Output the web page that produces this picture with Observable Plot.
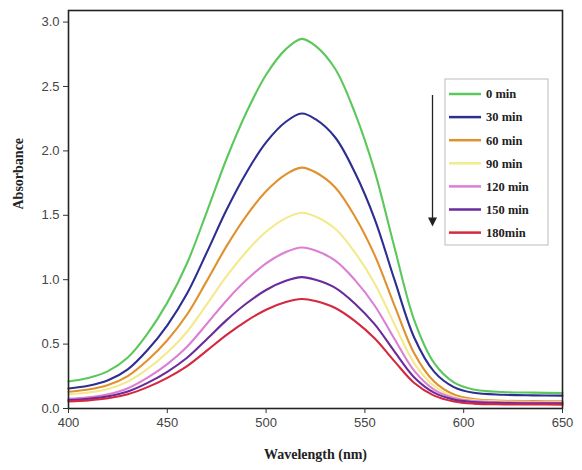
<!DOCTYPE html>
<html>
<head>
<meta charset="utf-8">
<script src="https://cdn.jsdelivr.net/npm/d3@7"></script>
<script src="https://cdn.jsdelivr.net/npm/@observablehq/plot@0.6"></script>
<style>
  html, body { margin: 0; padding: 0; background: #fff; }
  #chart { width: 582px; height: 470px; }
</style>
</head>
<body>
<div id="chart"></div>
<script>
// Wavelength grid (nm)
const wavelengths = [400, 410, 420, 430, 440, 450, 460, 470, 480, 490, 500, 510, 518,
  525, 535, 545, 555, 565, 575, 585, 595, 605, 620, 635, 650];

// Absorbance spectra by irradiation time
const min0   = [0.21, 0.237, 0.29, 0.396, 0.582, 0.822, 1.128, 1.527, 1.939, 2.298, 2.591, 2.79, 2.87,
  2.815, 2.636, 2.293, 1.839, 1.248, 0.684, 0.354, 0.203, 0.148, 0.128, 0.123, 0.12];
const min30  = [0.155, 0.176, 0.219, 0.304, 0.454, 0.646, 0.892, 1.212, 1.543, 1.831, 2.066, 2.226, 2.29,
  2.246, 2.104, 1.83, 1.469, 0.998, 0.549, 0.286, 0.166, 0.122, 0.107, 0.102, 0.10];
const min60  = [0.13, 0.147, 0.182, 0.252, 0.374, 0.53, 0.73, 0.991, 1.261, 1.496, 1.687, 1.818, 1.87,
  1.834, 1.716, 1.489, 1.189, 0.799, 0.427, 0.209, 0.109, 0.073, 0.06, 0.057, 0.055];
const min90  = [0.11, 0.124, 0.152, 0.209, 0.307, 0.434, 0.596, 0.808, 1.027, 1.217, 1.372, 1.478, 1.52,
  1.491, 1.395, 1.211, 0.969, 0.653, 0.351, 0.175, 0.094, 0.065, 0.054, 0.051, 0.05];
const min120 = [0.075, 0.087, 0.11, 0.157, 0.24, 0.345, 0.48, 0.657, 0.839, 0.997, 1.127, 1.215, 1.25,
  1.226, 1.148, 0.997, 0.798, 0.539, 0.292, 0.147, 0.081, 0.057, 0.049, 0.046, 0.045];
const min150 = [0.065, 0.075, 0.094, 0.132, 0.199, 0.285, 0.394, 0.538, 0.686, 0.815, 0.92, 0.991, 1.02,
  1.0, 0.937, 0.814, 0.653, 0.442, 0.241, 0.123, 0.069, 0.05, 0.043, 0.041, 0.04];
const min180 = [0.055, 0.063, 0.079, 0.111, 0.166, 0.238, 0.329, 0.449, 0.572, 0.679, 0.767, 0.826, 0.85,
  0.834, 0.78, 0.678, 0.543, 0.366, 0.198, 0.10, 0.055, 0.038, 0.032, 0.031, 0.03];

const seriesNames = ["0 min", "30 min", "60 min", "90 min", "120 min", "150 min", "180min"];
const seriesValues = [min0, min30, min60, min90, min120, min150, min180];
const seriesColors = ["#5cc85c", "#2e2e92", "#e0912e", "#f4e98c", "#dc7fd4", "#6a2c9c", "#d4283e"];

const xTicks = [400, 450, 500, 550, 600, 650];
const yTicks = [0, 0.5, 1.0, 1.5, 2.0, 2.5, 3.0];

// long-format table for Plot
const rows = seriesNames.flatMap((name, i) =>
  wavelengths.map((w, j) => ({series: name, wavelength: w, absorbance: seriesValues[i][j]})));

const serif = "'Liberation Serif', 'Times New Roman', serif";

const chart = Plot.plot({
  width: 582,
  height: 470,
  marginLeft: 68,
  marginRight: 20,
  marginTop: 10,
  marginBottom: 62,
  style: {fontFamily: "'Liberation Sans', Arial, sans-serif", fontSize: "13px", color: "#444", background: "#fff"},
  x: {domain: [400, 650]},
  y: {domain: [0, 3.09]},
  color: {domain: seriesNames, range: seriesColors},
  marks: [
    Plot.line(rows, {x: "wavelength", y: "absorbance", z: "series", stroke: "series",
      strokeWidth: 2.1, curve: "catmull-rom"}),
    Plot.frame({stroke: "#222", strokeWidth: 1.6}),
    Plot.axisX({ticks: xTicks, tickSize: 5, tickPadding: 4, label: null, stroke: "#333"}),
    Plot.axisY({ticks: yTicks, tickSize: 5, tickPadding: 4, tickFormat: d3.format(".1f"), label: null, stroke: "#333"}),
    Plot.text(["Wavelength (nm)"], {frameAnchor: "bottom", dy: 50, fontFamily: serif,
      fontWeight: "bold", fontSize: 14, fill: "#222"}),
    Plot.text(["Absorbance"], {frameAnchor: "left", dx: -50, rotate: -90, fontFamily: serif,
      fontWeight: "bold", fontSize: 14, fill: "#222"})
  ]
});
document.getElementById("chart").appendChild(chart);

// legend box with line samples, plus the downward time arrow
const svg = d3.select(chart);
const lg = svg.append("g").attr("class", "legend").attr("text-anchor", "start");
lg.append("rect").attr("x", 445).attr("y", 79).attr("width", 103).attr("height", 166)
  .attr("fill", "#fff").attr("stroke", "#bbb").attr("stroke-width", 1);
seriesNames.forEach((name, i) => {
  const y = 94 + i * 23.1;
  lg.append("line").attr("x1", 449).attr("x2", 481).attr("y1", y).attr("y2", y)
    .attr("stroke", seriesColors[i]).attr("stroke-width", 2.5);
  lg.append("text").attr("x", 486).attr("y", y).attr("dy", "0.35em")
    .attr("font-family", serif).attr("font-weight", "bold")
    .attr("font-size", 12.5).attr("fill", "#222").text(name);
});
svg.append("defs").append("marker").attr("id", "arrowhead").attr("viewBox", "0 0 10 10")
  .attr("refX", 5).attr("refY", 5).attr("markerWidth", 7).attr("markerHeight", 7).attr("orient", "auto")
  .append("path").attr("d", "M0,0 L10,5 L0,10 z").attr("fill", "#222");
svg.append("line").attr("x1", 432.5).attr("x2", 432.5).attr("y1", 95).attr("y2", 222)
  .attr("stroke", "#222").attr("stroke-width", 1.3).attr("marker-end", "url(#arrowhead)");
</script>
</body>
</html>
